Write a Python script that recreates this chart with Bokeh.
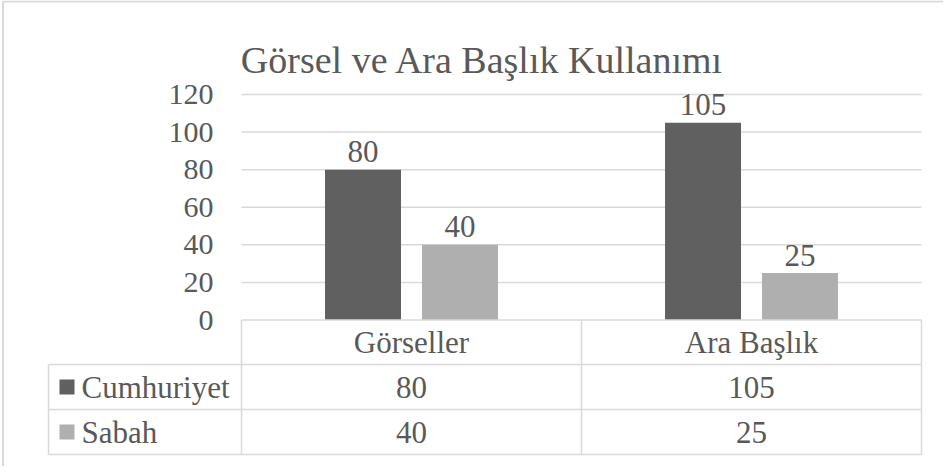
from bokeh.plotting import figure
from bokeh.models import Range1d
from bokeh.core.properties import value
from bokeh.embed import file_html
from bokeh.resources import INLINE

# ---- data ----
title_text = "Görsel ve Ara Başlık Kullanımı"
categories = ["Görseller", "Ara Başlık"]
series_names = ["Cumhuriyet", "Sabah"]
cumhuriyet = [80, 105]
sabah = [40, 25]
y_ticks = [0, 20, 40, 60, 80, 100, 120]
tick_labels = ["0", "20", "40", "60", "80", "100", "120"]

# ---- style ----
FONT = value("Liberation Serif")
TXT = "#595959"
GRID = "#d9d9d9"
COLORS = ["#606060", "#afafaf"]

# layout helpers (reference pixel -> data units)
Y0, S = 327.5, 225.5 / 120.0      # y pixel of value 0, px per unit
X0, CW = 249.0, 340.0             # x pixel of first category start, category width px
def vy(py):
    return (Y0 - py) / S
def ux(px):
    return (px - X0) / CW

LEFT, TOP = 8, 8
W, H = 943, 466
p = figure(width=W, height=H, output_backend="svg", toolbar_location=None,
           x_range=Range1d(ux(LEFT), ux(LEFT + W)), y_range=Range1d(vy(TOP + H), vy(TOP)),
           min_border=0)
p.axis.visible = False
p.grid.visible = False
p.outline_line_color = None
p.background_fill_color = "white"
p.border_fill_color = "white"

n = len(categories)
# outer chart border (left + top)
p.segment(x0=[ux(10.5), ux(10)], y0=[vy(9), vy(9)], x1=[ux(10.5), ux(960)], y1=[vy(480), vy(9)],
          line_color=GRID, line_width=2)

# gridlines
gx0 = [0] * (len(y_ticks) - 1)
gx1 = [n] * (len(y_ticks) - 1)
p.segment(x0=gx0, y0=y_ticks[1:], x1=gx1, y1=y_ticks[1:], line_color=GRID, line_width=1.5)

# bars + data labels
bar_w = 0.2235
offs = [-0.1426, 0.1426]
for s, (vals, col) in enumerate(zip([cumhuriyet, sabah], COLORS)):
    xs = [i + 0.5 + offs[s] for i in range(n)]
    p.vbar(x=xs, top=vals, bottom=0, width=bar_w, fill_color=col, line_color=None)
    p.text(x=xs, y=vals, text=[str(v) for v in vals], text_font=FONT, text_font_size="31px",
           text_color=TXT, text_align="center", text_baseline="alphabetic", y_offset=-18)

# y tick labels
p.text(x=[ux(221)] * len(y_ticks), y=y_ticks, text=tick_labels, text_font=FONT,
       text_font_size="30px", text_color=TXT, text_align="right", text_baseline="middle")

# title
p.text(x=[ux(490)], y=[vy(67)], text=[title_text], text_font=FONT, text_font_size="38px",
       text_color=TXT, text_align="center", text_baseline="alphabetic")

# data table
r0, r1, r2, r3 = 0, vy(372), vy(417), vy(462)
lx = ux(56)
hx0 = [0, lx, lx, lx]
hx1 = [n, n, n, n]
hy = [r0, r1, r2, r3]
p.segment(x0=hx0, y0=hy, x1=hx1, y1=hy, line_color=GRID, line_width=1.5)
vx = [lx] + list(range(n + 1))
vy0 = [r1] + [r0] * (n + 1)
p.segment(x0=vx, y0=vy0, x1=vx, y1=[r3] * (n + 2), line_color=GRID, line_width=1.5)

cx = [i + 0.5 for i in range(n)]
p.text(x=cx, y=[(r0 + r1) / 2] * n, text=categories, text_font=FONT, text_font_size="31px",
       text_color=TXT, text_align="center", text_baseline="middle")
for vals, yc in zip([cumhuriyet, sabah], [(r1 + r2) / 2, (r2 + r3) / 2]):
    p.text(x=cx, y=[yc] * n, text=[str(v) for v in vals], text_font=FONT, text_font_size="31px",
           text_color=TXT, text_align="center", text_baseline="middle")

# legend keys in table
rows_y = [(r1 + r2) / 2, (r2 + r3) / 2]
p.scatter(x=[ux(74.5)] * 2, y=rows_y, marker="square", size=15, fill_color=COLORS, line_color=None)
p.text(x=[ux(89)] * 2, y=rows_y, text=series_names, text_font=FONT, text_font_size="31px",
       text_color=TXT, text_align="left", text_baseline="middle")

open("out.html", "w").write(file_html(p, INLINE))
